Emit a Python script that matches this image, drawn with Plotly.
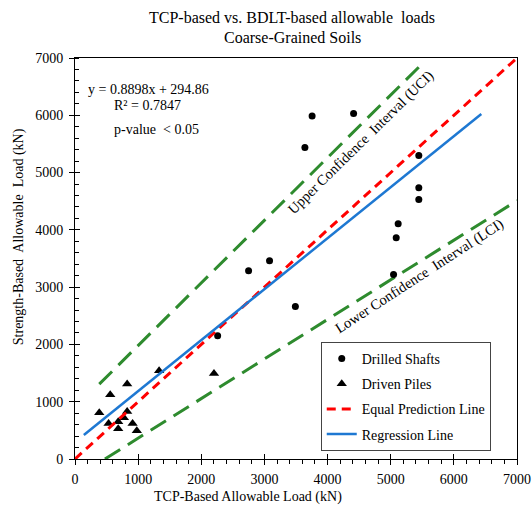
import plotly.graph_objects as go

# ---- data ----
shaft_x = [3755, 4412, 3641, 5445, 5445, 5445, 5118, 5087, 5045, 2749, 3081, 3490, 2259]
shaft_y = [5986, 6031, 5438, 5298, 4735, 4531, 4106, 3862, 3220, 3286, 3461, 2660, 2152]

pile_x = [384, 558, 532, 684, 684, 774, 826, 826, 912, 979, 1332, 2201]
pile_y = [808, 1122, 621, 651, 529, 721, 831, 1309, 621, 494, 1541, 1494]

equal_x = [0, 7000]
equal_y = [0, 7000]

reg_x = [140, 6435]
reg_y = [420, 6021]

uci_x = [384, 5450]
uci_y = [1307, 6846]

lci_x = [474, 7000]
lci_y = [0, 4510]

FONT = "Liberation Serif"
GREEN = "#2E8B2E"
RED = "#FF0000"
BLUE = "#1E78D2"

fig = go.Figure()

fig.add_trace(go.Scatter(x=uci_x, y=uci_y, mode="lines", showlegend=False,
                         line=dict(color=GREEN, width=3, dash="18px,9px")))
fig.add_trace(go.Scatter(x=lci_x, y=lci_y, mode="lines", showlegend=False,
                         line=dict(color=GREEN, width=3, dash="18px,9px")))

fig.add_trace(go.Scatter(x=shaft_x, y=shaft_y, mode="markers", name="Drilled Shafts",
                         legendgroup="a",
                         marker=dict(symbol="circle", size=7, color="black")))
fig.add_trace(go.Scatter(x=pile_x, y=pile_y, mode="markers", name="Driven Piles",
                         legendgroup="b",
                         marker=dict(symbol="triangle-up", size=9, color="black")))
fig.add_trace(go.Scatter(x=equal_x, y=equal_y, mode="lines", name="Equal Prediction Line",
                         legendgroup="c",
                         line=dict(color=RED, width=3, dash="9px,6px")))
fig.add_trace(go.Scatter(x=reg_x, y=reg_y, mode="lines", name="Regression Line",
                         legendgroup="d",
                         line=dict(color=BLUE, width=2.5)))

# dummy trace for overlay axes (crossing ticks)
fig.add_trace(go.Scatter(x=[], y=[], xaxis="x2", yaxis="y2", showlegend=False,
                         hoverinfo="skip"))

axis_common = dict(range=[0, 7000], dtick=1000, showgrid=False, zeroline=False,
                   showline=True, linecolor="black", linewidth=1, mirror=True,
                   ticks="outside", ticklen=5, tickcolor="black", tickwidth=1,
                   automargin=False,
                   tickfont=dict(family=FONT, size=14, color="black"))

fig.update_layout(
    width=532, height=513,
    margin=dict(l=75, r=15, t=58, b=54, autoexpand=False),
    paper_bgcolor="white", plot_bgcolor="white",
    font=dict(family=FONT, size=14, color="black"),
    xaxis=dict(**axis_common, ticklabelstandoff=2,
               minor=dict(dtick=200, ticks="outside", ticklen=4, tickcolor="black")),
    yaxis=dict(**axis_common, ticklabelstandoff=3,
               minor=dict(dtick=200, ticks="inside", ticklen=4, tickcolor="black")),
    xaxis2=dict(overlaying="x", anchor="y", side="bottom", range=[0, 7000], dtick=1000,
                ticks="inside", ticklen=5, tickcolor="black", showticklabels=False,
                showgrid=False, zeroline=False, showline=False, automargin=False),
    yaxis2=dict(overlaying="y", anchor="x", side="left", range=[0, 7000], dtick=1000,
                ticks="inside", ticklen=5, tickcolor="black", showticklabels=False,
                showgrid=False, zeroline=False, showline=False, automargin=False),
    legend=dict(x=0.556, y=0.292, xanchor="left", yanchor="top",
                bgcolor="white", bordercolor="#444", borderwidth=1,
                font=dict(family=FONT, size=14, color="black"),
                traceorder="grouped", tracegroupgap=4),
    showlegend=True,
)

ann = []
ann.append(dict(text="TCP-based vs. BDLT-based allowable  loads",
                xref="paper", yref="paper", x=0.491, y=1.102, xanchor="center", yanchor="middle",
                showarrow=False, font=dict(family=FONT, size=16)))
ann.append(dict(text="Coarse-Grained Soils",
                xref="paper", yref="paper", x=0.491, y=1.052, xanchor="center", yanchor="middle",
                showarrow=False, font=dict(family=FONT, size=16)))
ann.append(dict(text="TCP-Based Allowable Load (kN)", xref="paper", yref="paper",
                x=0.391, y=-0.096, xanchor="center", yanchor="middle", showarrow=False,
                font=dict(family=FONT, size=14)))
ann.append(dict(text="Strength-Based  Allowable  Load (kN)", xref="paper", yref="paper",
                x=-0.125, y=0.555, xanchor="center", yanchor="middle", showarrow=False,
                textangle=-90, font=dict(family=FONT, size=14)))
ann.append(dict(text="y = 0.8898x + 294.86", x=1164, y=6452, showarrow=False,
                font=dict(family=FONT, size=14)))
ann.append(dict(text="R² = 0.7847", x=1153, y=6166, showarrow=False,
                font=dict(family=FONT, size=14)))
ann.append(dict(text="p-value  < 0.05", x=1291, y=5747, showarrow=False,
                font=dict(family=FONT, size=14)))
ann.append(dict(text="Upper Confidence  Interval (UCI)", x=4526, y=5529, showarrow=False,
                textangle=-44.5, font=dict(family=FONT, size=14.5)))
ann.append(dict(text="Lower Confidence  Interval (LCI)", x=5450, y=3181, showarrow=False,
                textangle=-33, font=dict(family=FONT, size=14.5)))
fig.update_layout(annotations=ann)

fig.write_html("out.html")
